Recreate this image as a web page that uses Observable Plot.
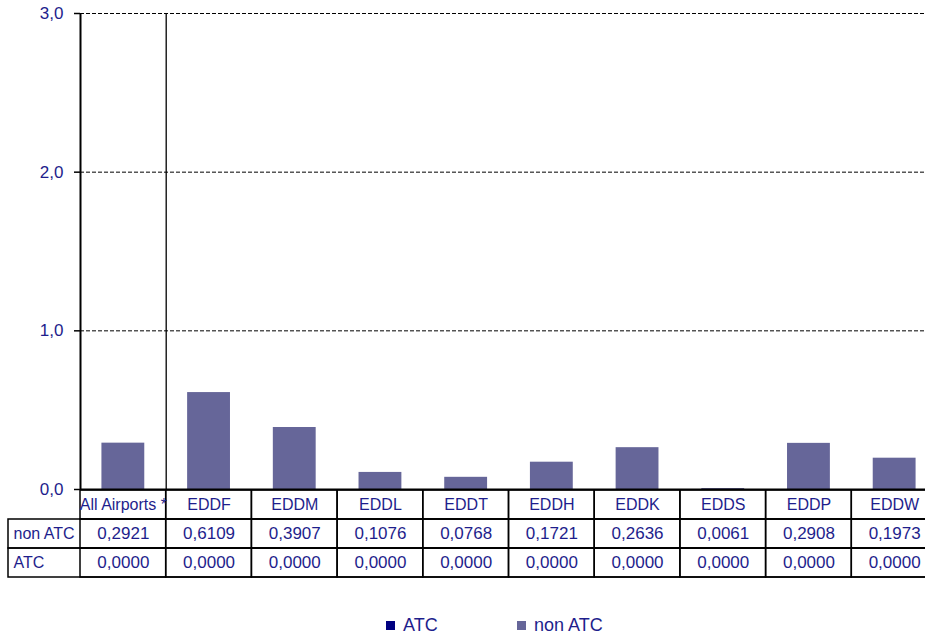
<!DOCTYPE html>
<html>
<head>
<meta charset="utf-8">
<script src="https://cdn.jsdelivr.net/npm/d3@7"></script>
<script src="https://cdn.jsdelivr.net/npm/@observablehq/plot@0.6"></script>
<style>
  body { margin: 0; background: #fff; }
  #wrap { position: relative; width: 925px; height: 638px; overflow: hidden;
          font-family: "Liberation Sans", Arial, sans-serif; }
  #chart, #table { position: absolute; left: 0; }
  #chart { top: 0; }
  #table { top: 488px; }
  #legend { position: absolute; top: 615px; left: 386px; height: 24px; width: 300px;
            font-size: 18px; color: #1e1e8c; }
  .item { position: absolute; top: 0; display: flex; align-items: center; white-space: nowrap; }
  .sw { display: inline-block; width: 9px; height: 9px; margin-right: 8px; }
</style>
</head>
<body>
<div id="wrap">
  <div id="chart"></div>
  <div id="table"></div>
  <div id="legend"></div>
</div>
<script>
const categories = ["All Airports *", "EDDF", "EDDM", "EDDL", "EDDT", "EDDH", "EDDK", "EDDS", "EDDP", "EDDW"];
const nonATC = [0.2921, 0.6109, 0.3907, 0.1076, 0.0768, 0.1721, 0.2636, 0.0061, 0.2908, 0.1973];
const atc = [0, 0, 0, 0, 0, 0, 0, 0, 0, 0];
const rows = ["non ATC", "ATC"];
const yTicks = [0, 1, 2, 3];
const seriesNames = ["ATC", "non ATC"];
const seriesColors = ["#000080", "#666699"];

const NAVY = "#1e1e8c";
const FONT = '"Liberation Sans", Arial, sans-serif';
const fmt1 = d => d.toFixed(1).replace(".", ",");
const fmt4 = d => d.toFixed(4).replace(".", ",");
const n = categories.length;

const chart = Plot.plot({
  width: 925, height: 490,
  marginTop: 13, marginBottom: 1, marginLeft: 80, marginRight: -12,
  style: { fontFamily: FONT, background: "transparent", overflow: "visible" },
  x: { domain: [0, n], axis: null },
  y: { domain: [0, 3], axis: null },
  marks: [
    Plot.ruleY(yTicks.filter(d => d > 0), { stroke: "black", strokeDasharray: "4,2" }),
    Plot.rect(categories, {
      x1: (d, i) => i + 0.25, x2: (d, i) => i + 0.75,
      y1: 0, y2: (d, i) => nonATC[i], fill: seriesColors[1]
    }),
    Plot.rect(categories, {
      x1: (d, i) => i + 0.25, x2: (d, i) => i + 0.75,
      y1: (d, i) => nonATC[i], y2: (d, i) => nonATC[i] + atc[i], fill: seriesColors[0]
    }),
    Plot.ruleX([0], { stroke: "black", strokeWidth: 2 }),
    Plot.ruleX([categories.indexOf("EDDF")], { stroke: "black", strokeWidth: 1.3 }),
    Plot.ruleY([0], { stroke: "black", strokeWidth: 2 }),
    Plot.axisY(yTicks, {
      tickFormat: fmt1, tickSize: 6, tickPadding: 11, fontSize: 17,
      stroke: "black", fill: NAVY, strokeWidth: 1.5
    })
  ]
});
document.getElementById("chart").appendChild(chart);

const tableRows = ["", ...rows];
const cells = tableRows.flatMap(r => categories.map((c, i) => ({
  r, i,
  text: r === "" ? c : fmt4((r === "ATC" ? atc : nonATC)[i])
})));

const table = Plot.plot({
  width: 925, height: 90,
  marginTop: 1, marginBottom: 1, marginLeft: 8, marginRight: -12,
  style: { fontFamily: FONT, background: "transparent", overflow: "visible" },
  x: { domain: [0, n], range: [80, 937], axis: null },
  y: { domain: tableRows, range: [1, 89], padding: 0, axis: null },
  marks: [
    Plot.cell(rows, { y: d => d, fill: "none", stroke: "black", strokeWidth: 1.5 }),
    Plot.barX(cells, { x1: d => d.i, x2: d => d.i + 1, y: "r", fill: "none", stroke: "black", strokeWidth: 1.5 }),
    Plot.text(cells, {
      x: d => d.i + 0.5, y: "r", text: "text", fill: NAVY,
      fontSize: d => d.r === "" ? 16 : 17
    }),
    Plot.text(rows, { y: d => d, frameAnchor: "left", textAnchor: "start", dx: 5, fill: NAVY, fontSize: 16 })
  ]
});
document.getElementById("table").appendChild(table);

const legend = d3.select("#legend");
const offsets = [0, 131];
seriesNames.forEach((s, k) => {
  const it = legend.append("div").attr("class", "item").style("left", offsets[k] + "px");
  it.append("span").attr("class", "sw").style("background", seriesColors[k]);
  it.append("span").text(s);
});
</script>
</body>
</html>
